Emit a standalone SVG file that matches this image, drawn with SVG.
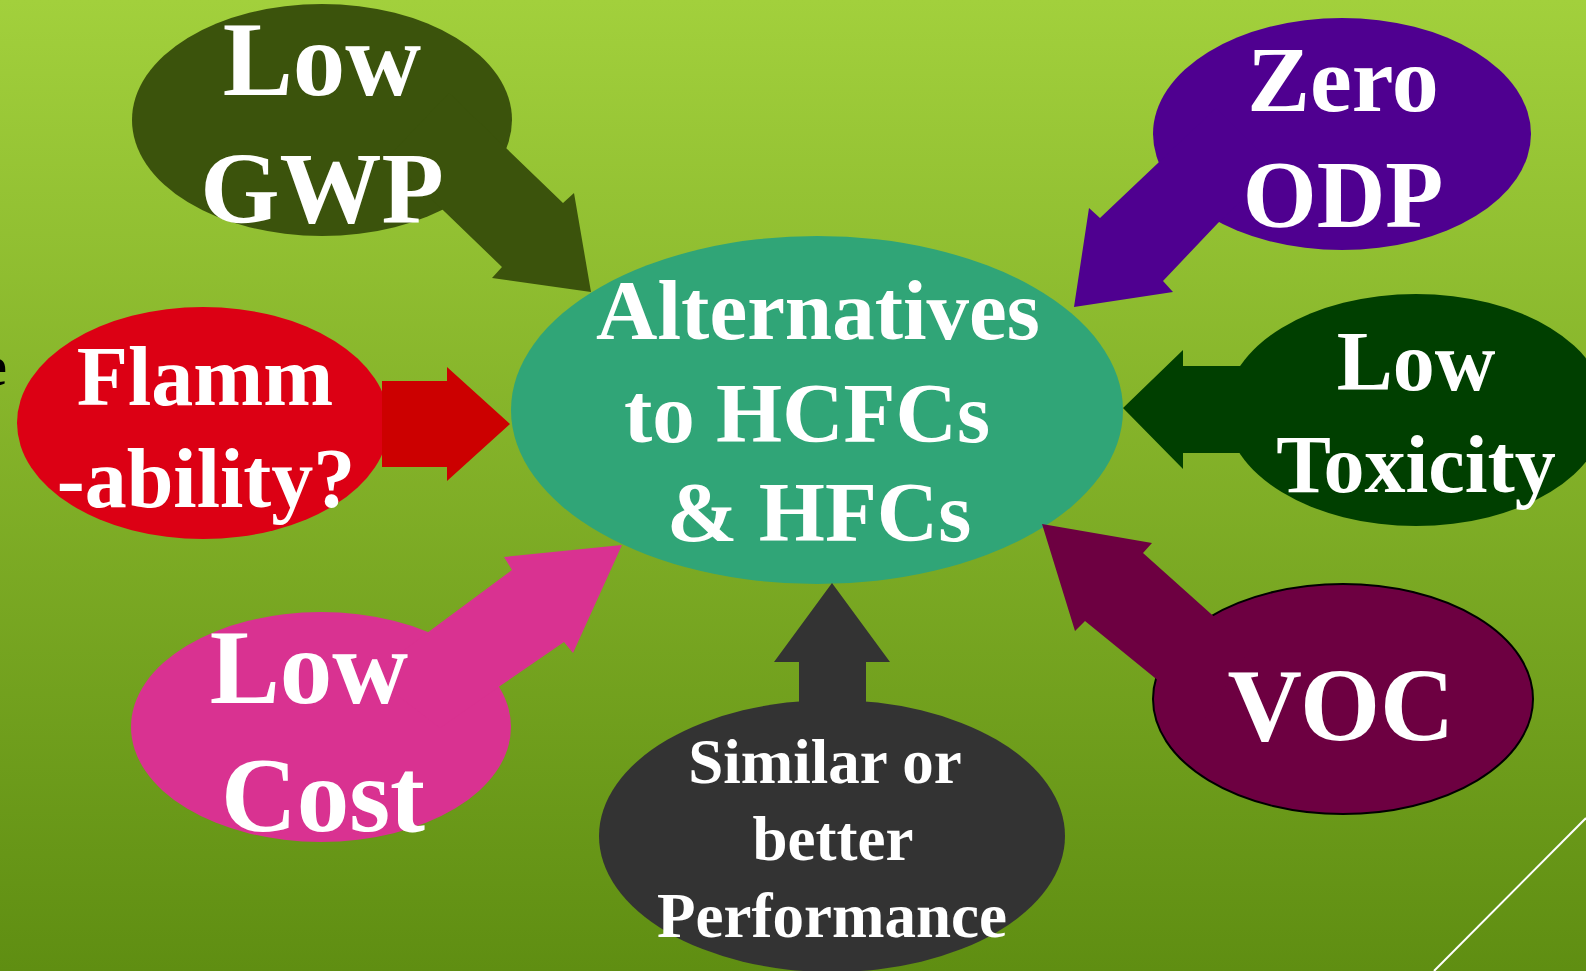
<svg xmlns="http://www.w3.org/2000/svg" width="1586" height="971" viewBox="0 0 1586 971">
<defs>
<linearGradient id="bg" x1="0" y1="0" x2="0" y2="1">
<stop offset="0" stop-color="#a2d03c"/>
<stop offset="1" stop-color="#5f8e12"/>
</linearGradient>
</defs>
<style>
.t{font-family:"Liberation Serif","Times New Roman",serif;font-weight:bold;fill:#ffffff;text-anchor:middle}
</style>
<rect x="0" y="0" width="1586" height="971" fill="url(#bg)"/>
<line x1="1586" y1="818" x2="1434" y2="971" stroke="#ffffff" stroke-width="2"/>
<text x="-19" y="385" style="font-family:'Liberation Serif',serif;font-weight:bold;font-size:58px;fill:#000">e</text>

<g id="center">
<ellipse cx="817" cy="410" rx="306" ry="174" fill="#30a577"/>
</g>

<g id="node-gwp">
<ellipse cx="322" cy="120" rx="190" ry="116" fill="#3b530c"/>
</g>
<g id="node-odp">
<ellipse cx="1342" cy="134" rx="189" ry="116" fill="#4f0090"/>
</g>
<g id="node-flamm">
<ellipse cx="203" cy="423" rx="186" ry="116" fill="#dc0014"/>
</g>
<g id="node-tox">
<ellipse cx="1416" cy="410" rx="190" ry="116" fill="#003f00"/>
</g>
<g id="node-cost">
<ellipse cx="321" cy="727" rx="190" ry="115" fill="#d93291"/>
</g>
<g id="node-voc">
<ellipse cx="1343" cy="699" rx="190" ry="115" fill="#6d0041" stroke="#000" stroke-width="2"/>
</g>
<g id="node-perf">
<ellipse cx="832" cy="836" rx="233" ry="136" fill="#333333"/>
</g>

<g id="connectors">
<polygon fill="#3b530c" points="449,93 506,148 563,203 574,193 591,292 492,278 502,267 445,212 388,157"/>
<polygon fill="#4f0090" points="1216,108 1158,163 1100,218 1089,208 1074,307 1173,292 1163,281 1218,223 1276,168"/>
<polygon fill="#cc0000" points="382,381 447,381 447,367 510,424 447,481 447,467 382,467"/>
<polygon fill="#003f00" points="1260,366 1183,366 1183,350 1123,408 1183,469 1183,453 1260,453"/>
<polygon fill="#d93291" points="440,728 500,686 564,642 573,653 622,545 504,557 512,570 431,630 371,675"/>
<polygon fill="#6d0041" points="1250,649 1210,613 1143,553 1152,543 1042,524 1075,631 1085,621 1155,678 1205,718"/>
<polygon fill="#333333" points="799,720 799,662 774,662 832,583 890,662 866,662 866,720"/>
</g>

<g id="labels">
<text class="t" x="818" y="339" font-size="85">Alternatives</text>
<text class="t" x="807" y="442" font-size="85">to HCFCs</text>
<text class="t" x="819" y="541" font-size="85">&amp; HFCs</text>

<text class="t" x="322" y="95" font-size="105">Low</text>
<text class="t" x="322" y="223" font-size="102">GWP</text>

<text class="t" x="1343" y="111" font-size="94">Zero</text>
<text class="t" x="1343" y="227" font-size="95">ODP</text>

<text class="t" x="205" y="405" font-size="84">Flamm</text>
<text class="t" x="206" y="507" font-size="84">-ability?</text>

<text class="t" x="1416" y="390" font-size="84">Low</text>
<text class="t" x="1416" y="492" font-size="82">Toxicity</text>

<text class="t" x="309" y="703" font-size="105">Low</text>
<text class="t" x="323" y="831" font-size="105">Cost</text>

<text class="t" x="1341" y="740" font-size="103">VOC</text>

<text class="t" x="825" y="783" font-size="63">Similar or</text>
<text class="t" x="833" y="860" font-size="63">better</text>
<text class="t" x="832" y="937" font-size="63">Performance</text>
</g>
</svg>
